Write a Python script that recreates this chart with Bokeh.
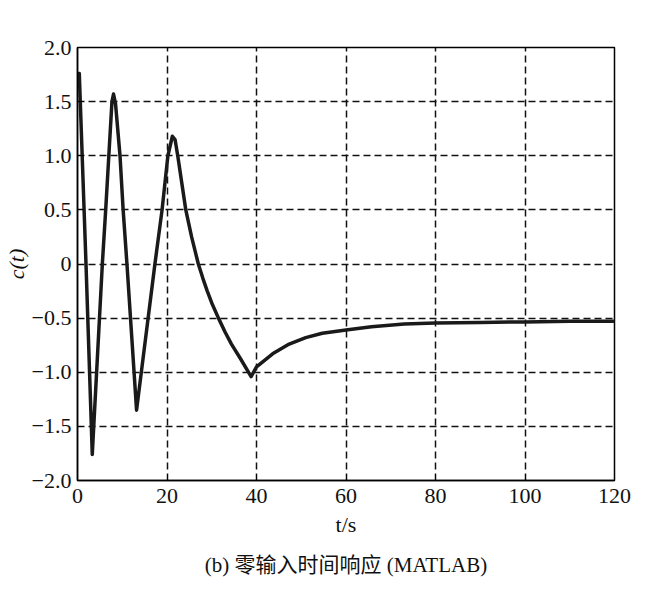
from bokeh.plotting import figure
from bokeh.models import Range1d, FixedTicker, Title, CustomJSTickFormatter
from bokeh.embed import file_html
from bokeh.resources import INLINE

# Zero-input time response c(t)
t_s = [0.0, 0.4, 1.9, 3.3, 5.55, 6.3, 7.0, 7.7, 8.05, 8.5, 9.5, 10.2, 11.05, 13.2,
       17.3, 18.9, 20.2, 21.2, 21.8, 22.4, 24.2, 25.5, 27.0, 28.0, 29.0, 30.0, 31.5,
       33.0, 34.4, 36.5, 38.8,
       40.0, 43.6, 47.3, 51.0, 54.7, 60.0, 65.7, 73.0, 80.0, 90.0, 100.0, 110.0, 120.0]
c_t = [1.70, 1.76, 0.0, -1.76, 0.0, 0.5, 1.0, 1.5, 1.57, 1.48, 1.0, 0.5, 0.0, -1.35,
       0.0, 0.5, 1.0, 1.18, 1.15, 1.0, 0.5, 0.25, 0.0, -0.13, -0.25, -0.36, -0.5,
       -0.63, -0.74, -0.88, -1.04,
       -0.95, -0.83, -0.74, -0.68, -0.64, -0.61, -0.58, -0.555, -0.545, -0.54, -0.535, -0.53, -0.53]

x_ticks = [0, 20, 40, 60, 80, 100, 120]
y_ticks = [-2.0, -1.5, -1.0, -0.5, 0.0, 0.5, 1.0, 1.5, 2.0]
x_label = "t/s"
y_label = "c(t)"
caption = "(b) 零输入时间响应 (MATLAB)"

SERIF = "Liberation Serif, Noto Sans CJK SC"

p = figure(width=640, height=589, output_backend="svg", toolbar_location=None,
           x_range=Range1d(0, 120), y_range=Range1d(-2, 2),
           min_border_left=68, min_border_right=26, min_border_top=47,
           min_border_bottom=109)
p.background_fill_color = "white"
p.border_fill_color = "white"
p.outline_line_color = "black"
p.outline_line_width = 1.5

p.line(t_s, c_t, line_color="#1a1a1a", line_width=3.5, line_join="round")

for ax in (p.xaxis[0], p.yaxis[0]):
    ax.axis_line_color = "black"
    ax.axis_line_width = 1.5
    ax.major_tick_in = 6
    ax.major_tick_out = 0
    ax.minor_tick_line_color = None
    ax.major_tick_line_color = "black"
    ax.major_label_text_font = SERIF
    ax.major_label_text_font_size = "22px"
    ax.major_label_text_color = "#111111"
    ax.axis_label_text_font = SERIF
    ax.axis_label_text_font_size = "22px"
    ax.axis_label_text_color = "#111111"

p.xaxis.ticker = FixedTicker(ticks=x_ticks)
p.yaxis.ticker = FixedTicker(ticks=y_ticks)
p.yaxis.formatter = CustomJSTickFormatter(
    code="return tick == 0 ? '0' : tick.toFixed(1).replace('-', '\\u2212');")
p.xaxis.axis_label = x_label
p.yaxis.axis_label = y_label
p.xaxis.axis_label_text_font_style = "normal"
p.yaxis.axis_label_text_font_style = "italic"
p.xaxis.major_label_standoff = 8
p.yaxis.major_label_standoff = 6
p.xaxis.axis_label_standoff = 6
p.yaxis.axis_label_standoff = 0

for g in (p.xgrid[0], p.ygrid[0]):
    g.grid_line_color = "#111111"
    g.grid_line_width = 1.5
    g.grid_line_dash = "7 4"
p.xgrid.ticker = FixedTicker(ticks=x_ticks)
p.ygrid.ticker = FixedTicker(ticks=y_ticks)

p.add_layout(Title(text=caption, align="center", text_font=SERIF,
                   text_font_size="21px", text_font_style="normal",
                   text_color="#111111", standoff=22), "below")

open("out.html", "w").write(file_html(p, INLINE))
